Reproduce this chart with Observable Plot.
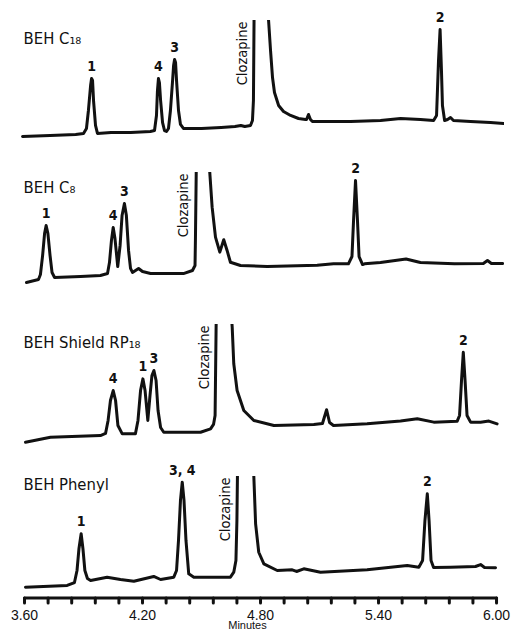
<!DOCTYPE html>
<html>
<head>
<meta charset="utf-8">
<script src="https://cdn.jsdelivr.net/npm/d3@7"></script>
<script src="https://cdn.jsdelivr.net/npm/@observablehq/plot@0.6"></script>
<style>
  html, body { margin: 0; padding: 0; background: #fff; }
  #chart { width: 514px; height: 631px; overflow: hidden; }
</style>
</head>
<body>
<div id="chart"></div>
<script>
// ---- Data (time in minutes, detector signal in relative units) ----
const panelNames = ["BEH C18", "BEH C8", "BEH Shield RP18", "BEH Phenyl"];
const panelBase  = ["BEH C", "BEH C", "BEH Shield RP", "BEH Phenyl"];
const panelSub   = ["18", "8", "18", ""];
const panelLabelSignal = [81, 83, 81, 88.5];

const traceC18 = [
  [3.59,4.6],[3.73,5.4],[3.86,6.3],[3.90,7.1],[3.915,11.2],[3.925,26],[3.936,46.5],[3.941,52.3],
  [3.946,50.7],[3.951,34.2],[3.961,13.7],[3.971,7.1],[4.04,7.9],[4.14,7.9],[4.24,8.7],[4.261,9.5],
  [4.271,21.9],[4.276,42.4],[4.281,52.3],[4.286,49],[4.292,34.2],[4.302,16.1],[4.312,9.5],[4.322,8.7],
  [4.332,11.2],[4.342,26],[4.353,50.7],[4.358,63],[4.363,67.9],[4.368,65.5],[4.373,50.7],[4.383,26],
  [4.393,14.5],[4.408,11.2],[4.44,11.2],[4.50,11.2],[4.60,12.0],[4.67,12.8],[4.70,13.7],[4.72,12.8],
  [4.749,13.7],[4.759,17.8],[4.764,34.2],[4.768,120],[4.80,160],[4.841,100],[4.851,75.3],[4.861,53.1],
  [4.871,40.8],[4.892,30.1],[4.917,25.2],[4.953,21.9],[4.993,19.4],[5.029,18.6],[5.034,18.6],[5.044,22.7],
  [5.054,18.6],[5.064,16.9],[5.105,16.9],[5.258,16.9],[5.41,17.8],[5.512,19.4],[5.613,18.6],[5.68,17.8],
  [5.695,21.9],[5.705,67.1],[5.713,92.6],[5.72,58.9],[5.725,30.1],[5.736,17.8],[5.751,18.6],[5.766,20.2],
  [5.781,17.8],[5.868,16.9],[5.969,16.1],[6.036,15.3]
];
const traceC8 = [
  [3.61,9.5],[3.671,12.0],[3.681,16.1],[3.692,31.7],[3.702,49.8],[3.71,56.4],[3.719,49.8],[3.73,31.7],
  [3.74,17.8],[3.753,13.7],[3.885,14.5],[3.986,15.3],[4.022,16.9],[4.032,25.9],[4.042,44.0],[4.051,54.8],
  [4.06,45.7],[4.074,22.7],[4.086,40.0],[4.096,64.6],[4.108,74.5],[4.118,64.6],[4.129,35.9],[4.139,21.1],
  [4.149,17.8],[4.18,21.1],[4.2,18.6],[4.241,16.9],[4.408,16.9],[4.454,19.4],[4.467,23.5],[4.469,44.1],
  [4.475,126],[4.51,160],[4.541,102.4],[4.554,71.5],[4.571,46.8],[4.593,34.5],[4.613,44.7],[4.63,35.9],
  [4.647,26.2],[4.698,23.5],[4.834,22.7],[5.088,23.8],[5.171,24.9],[5.247,24.9],[5.265,30.9],[5.273,60.5],
  [5.283,93.4],[5.293,60.5],[5.301,30.9],[5.319,24.3],[5.329,24.9],[5.41,26.0],[5.54,28.9],[5.613,26.0],
  [5.786,24.9],[5.933,25.2],[5.954,27.6],[5.974,25.2],[6.031,25.2]
];
const traceShield = [
  [3.605,3.2],[3.732,7.3],[3.986,8.7],[4.012,10.4],[4.025,21.1],[4.037,37.5],[4.051,45.7],[4.063,37.5],
  [4.075,16.9],[4.097,10.1],[4.164,10.1],[4.177,21.1],[4.19,45.7],[4.202,55.3],[4.213,45.7],[4.227,21.1],
  [4.238,41.6],[4.248,58.1],[4.258,62.2],[4.269,53.9],[4.279,29.3],[4.292,15.3],[4.308,11.4],[4.495,11.4],
  [4.546,14.2],[4.561,17.8],[4.569,25.2],[4.574,95.1],[4.576,119.7],[4.612,200],[4.656,97.8],[4.664,67.7],
  [4.681,45.7],[4.715,29.3],[4.766,21.1],[4.868,16.9],[5.071,17.8],[5.115,18.6],[5.136,29.9],[5.151,19.4],
  [5.171,16.9],[5.342,18.3],[5.512,20.6],[5.597,22.5],[5.681,19.7],[5.8,20.5],[5.812,25.2],[5.822,54.0],
  [5.831,77.2],[5.84,54.0],[5.85,25.2],[5.868,19.7],[5.919,19.7],[5.961,20.6],[6.003,18.3]
];
const tracePhenyl = [
  [3.605,9.0],[3.817,10.4],[3.854,12.8],[3.867,22.7],[3.877,40.8],[3.888,52.9],[3.897,40.8],[3.907,22.7],
  [3.92,16.1],[3.936,14.5],[4.02,17.2],[4.088,15.3],[4.156,13.9],[4.257,17.8],[4.292,15.3],[4.359,17.2],
  [4.373,22.7],[4.383,47.4],[4.393,80.3],[4.402,95.3],[4.411,80.3],[4.421,47.4],[4.435,20.0],[4.461,17.2],
  [4.647,17.2],[4.664,21.3],[4.675,30.9],[4.68,63.8],[4.683,105],[4.724,179],[4.766,100],[4.775,61.1],
  [4.791,37.7],[4.817,28.2],[4.885,22.7],[4.961,23.3],[4.983,21.9],[5.02,24.1],[5.105,21.3],[5.342,23.3],
  [5.546,26.8],[5.605,25.4],[5.624,30.9],[5.636,63.8],[5.648,85.8],[5.657,63.8],[5.667,30.9],[5.68,25.2],
  [5.766,25.4],[5.893,26.0],[5.919,27.6],[5.939,25.2],[5.995,24.9]
];

// peak labels: [label, retention time]
const peaksC18    = [["1",3.941],["4",4.281],["3",4.363],["2",5.713]];
const peaksC8     = [["1",3.71],["4",4.051],["3",4.108],["2",5.283]];
const peaksShield = [["4",4.051],["1",4.202],["3",4.258],["2",5.831]];
const peaksPhenyl = [["1",3.888],["3, 4",4.402],["2",5.648]];
const clozapineTime = [4.767, 4.470, 4.574, 4.682];

const axisTicks  = [3.60,3.72,3.84,3.96,4.08,4.20,4.32,4.44,4.56,4.68,4.80,4.92,5.04,5.16,5.28,5.40,5.52,5.64,5.76,5.88,6.00];
const labelTicks = [3.60,4.20,4.80,5.40,6.00];
const tickLabels = ["3.60","4.20","4.80","5.40","6.00"];
const axisTitle = "Minutes";

// ---- Tables built from the arrays ----
const traces = [traceC18, traceC8, traceShield, tracePhenyl];
const peakSets = [peaksC18, peaksC8, peaksShield, peaksPhenyl];
const bottomPanel = panelNames[panelNames.length - 1];
const subDigits = "₀₁₂₃₄₅₆₇₈₉";
const toSub = s => Array.from(s, c => subDigits[+c]).join("");

const rows = [];
traces.forEach((tr, i) => tr.forEach(([t, v]) => rows.push({panel: panelNames[i], series: panelNames[i], t, v})));
// x-axis baseline and the small ticks hanging below it, in the bottom panel
const axisRows = [
  {panel: bottomPanel, series: "axis", t: labelTicks[0], v: 0},
  {panel: bottomPanel, series: "axis", t: labelTicks[labelTicks.length - 1], v: 0}
];
axisTicks.forEach((t, i) => {
  axisRows.push({panel: bottomPanel, series: "tick" + i, t, v: 0});
  axisRows.push({panel: bottomPanel, series: "tick" + i, t, v: -4});
});

const peakRows = [];
peakSets.forEach((ps, i) => ps.forEach(([label, t]) => {
  const near = traces[i].filter(d => Math.abs(d[0] - t) < 0.012);
  peakRows.push({panel: panelNames[i], label, t, v: d3.max(near, d => d[1])});
}));

const clozRows = clozapineTime.map((t, i) => ({panel: panelNames[i], t}));
const panelRows = panelNames.map((p, i) => ({panel: p, v: panelLabelSignal[i], label: panelBase[i] + toSub(panelSub[i])}));
const titleRow = [{panel: bottomPanel, text: axisTitle}];

const cond = "'DejaVu Sans Condensed', 'Liberation Sans Narrow', 'DejaVu Sans', sans-serif";
const ink = "#111";

const plot = Plot.plot({
  width: 514,
  height: 631,
  marginTop: 20,
  marginBottom: 26.1,
  marginLeft: 20.07,
  marginRight: 10.1,
  x: {domain: [3.58, 6.04]},
  y: {domain: [-6, 100], axis: null},
  fy: {domain: panelNames, axis: null, paddingInner: 0.152, paddingOuter: 0, round: false},
  style: {background: "#fff", color: ink, fontFamily: "'Liberation Sans', Arial, sans-serif", fontSize: "14px"},
  marks: [
    Plot.line(rows, {x: "t", y: "v", z: "series", fy: "panel", stroke: ink, strokeWidth: 3,
      strokeLinejoin: "round", clip: true}),
    Plot.line(axisRows, {x: "t", y: "v", z: "series", fy: "panel", stroke: ink, strokeWidth: 3}),
    Plot.text(peakRows, {x: "t", y: "v", fy: "panel", text: "label", dy: -12, lineAnchor: "middle",
      fontFamily: cond, fontWeight: "bold", fontSize: 14}),
    Plot.text(clozRows, {x: "t", fy: "panel", frameAnchor: "top", text: () => "Clozapine", rotate: -90,
      textAnchor: "end", lineAnchor: "middle", dx: -12, dy: 1, fontFamily: cond, fontSize: 14.5}),
    Plot.text(panelRows, {y: "v", fy: "panel", frameAnchor: "left", text: "label", textAnchor: "start",
      lineAnchor: "bottom", dx: 3, fontFamily: cond, fontSize: 16.5}),
    Plot.axisX({ticks: labelTicks, tickSize: 0, tickPadding: 5, label: null,
      tickFormat: d => tickLabels[labelTicks.indexOf(d)], fontSize: 14}),
    Plot.text(titleRow, {fy: "panel", frameAnchor: "bottom", text: "text", lineAnchor: "bottom",
      dy: 24, dx: -15, fontSize: 11})
  ]
});

document.getElementById("chart").append(plot);
</script>
</body>
</html>
